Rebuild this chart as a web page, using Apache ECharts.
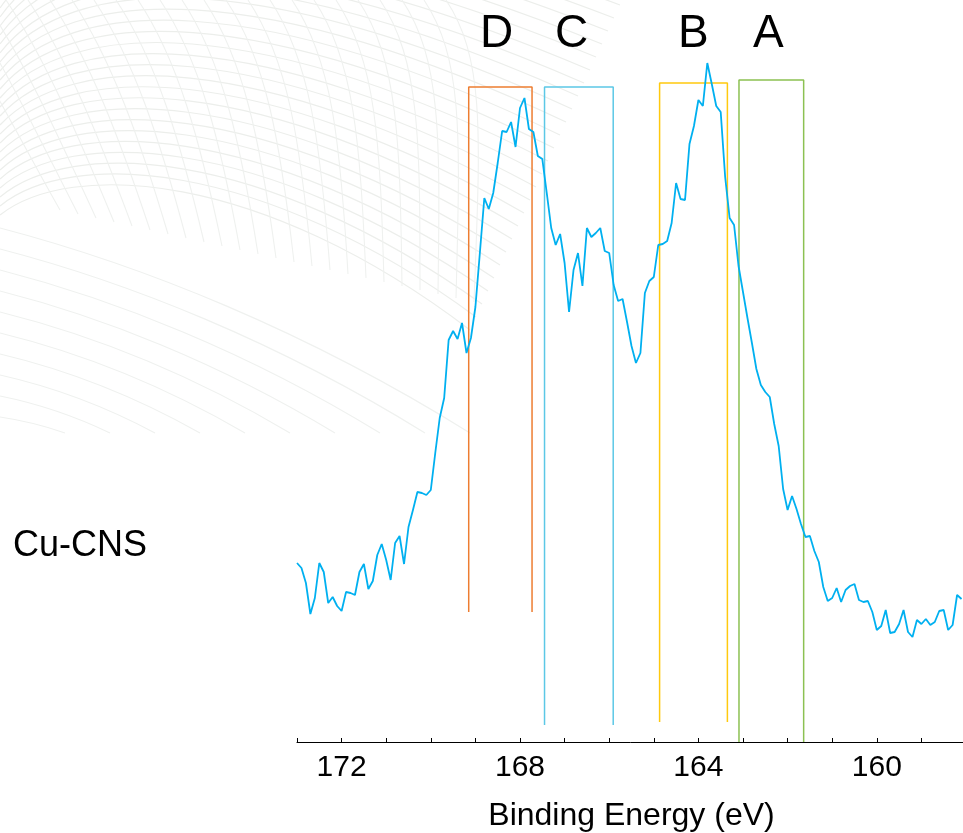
<!DOCTYPE html>
<html>
<head>
<meta charset="utf-8">
<title>Cu-CNS S 2p</title>
<script src="https://cdn.jsdelivr.net/npm/echarts@6/dist/echarts.min.js"></script>
<style>
  html, body { margin: 0; padding: 0; background: #fff; }
  #chart { width: 963px; height: 833px; }
</style>
</head>
<body>
<div id="chart"></div>
<script>
// binding energy (eV), 0.1 eV steps
const energy = [
  173.0, 172.9, 172.8, 172.7, 172.6, 172.5, 172.4, 172.3, 172.2, 172.1,
  172.0, 171.9, 171.8, 171.7, 171.6, 171.5, 171.4, 171.3, 171.2, 171.1,
  171.0, 170.9, 170.8, 170.7, 170.6, 170.5, 170.4, 170.3, 170.2, 170.1,
  170.0, 169.9, 169.8, 169.7, 169.6, 169.5, 169.4, 169.3, 169.2, 169.1,
  169.0, 168.9, 168.8, 168.7, 168.6, 168.5, 168.4, 168.3, 168.2, 168.1,
  168.0, 167.9, 167.8, 167.7, 167.6, 167.5, 167.4, 167.3, 167.2, 167.1,
  167.0, 166.9, 166.8, 166.7, 166.6, 166.5, 166.4, 166.3, 166.2, 166.1,
  166.0, 165.9, 165.8, 165.7, 165.6, 165.5, 165.4, 165.3, 165.2, 165.1,
  165.0, 164.9, 164.8, 164.7, 164.6, 164.5, 164.4, 164.3, 164.2, 164.1,
  164.0, 163.9, 163.8, 163.7, 163.6, 163.5, 163.4, 163.3, 163.2, 163.1,
  163.0, 162.9, 162.8, 162.7, 162.6, 162.5, 162.4, 162.3, 162.2, 162.1,
  162.0, 161.9, 161.8, 161.7, 161.6, 161.5, 161.4, 161.3, 161.2, 161.1,
  161.0, 160.9, 160.8, 160.7, 160.6, 160.5, 160.4, 160.3, 160.2, 160.1,
  160.0, 159.9, 159.8, 159.7, 159.6, 159.5, 159.4, 159.3, 159.2, 159.1,
  159.0, 158.9, 158.8, 158.7, 158.6, 158.5, 158.4, 158.3, 158.2, 158.1
]
// intensity (a.u.)
const intensity = [
  17.9, 17.4, 15.9, 12.8, 14.4, 17.9, 17.0, 13.9, 14.5, 13.6,
  13.1, 15.0, 14.9, 14.7, 17.0, 17.8, 15.3, 16.1, 18.7, 19.8,
  18.2, 16.2, 19.9, 20.6, 17.8, 21.5, 23.2, 25.0, 24.9, 24.7,
  25.2, 28.9, 32.4, 34.4, 40.2, 41.1, 40.3, 41.9, 38.9, 40.4,
  43.5, 48.9, 54.4, 53.3, 54.9, 57.9, 61.1, 61.0, 62.0, 59.5,
  63.4, 64.4, 61.3, 61.0, 58.6, 58.3, 54.9, 51.4, 49.7, 50.8,
  47.9, 43.0, 47.2, 48.9, 45.6, 51.4, 50.5, 50.9, 51.4, 49.1,
  48.9, 45.7, 44.1, 44.3, 42.0, 39.6, 37.9, 38.9, 44.9, 46.1,
  46.5, 49.7, 49.8, 50.1, 51.9, 55.9, 54.3, 54.2, 59.8, 61.6,
  64.2, 63.6, 67.9, 65.8, 63.6, 63.0, 56.5, 52.4, 51.7, 47.6,
  45.0, 42.4, 39.9, 37.3, 35.7, 35.0, 34.5, 31.8, 29.6, 25.3,
  23.2, 24.6, 23.3, 21.8, 20.5, 20.6, 19.1, 18.0, 15.5, 14.1,
  14.4, 15.4, 14.0, 15.2, 15.6, 15.8, 14.2, 14.0, 14.1, 13.0,
  11.2, 11.6, 13.2, 10.9, 11.0, 11.8, 13.2, 11.0, 10.5, 12.2,
  11.8, 12.3, 11.7, 12.0, 13.1, 13.2, 11.2, 11.7, 14.7, 14.3
]

// peak windows
const boxNames = ['D', 'C', 'B', 'A']
const boxLeft = [169.15, 167.45, 164.87, 163.09]
const boxRight = [167.73, 165.91, 163.35, 161.64]
const boxTop = [65.5, 65.5, 65.9, 66.2]
const boxBottom = [13.0, 1.7, 2.0, 0]
const boxColors = ['#ED7D31', '#5CC8E6', '#FFC90E', '#8CC152']

const FONT = 'Liberation Sans, Arial, sans-serif'

const myChart = echarts.init(document.getElementById('chart'))

// faint decorative mesh in the upper-left corner
const makeBackground = () => {
  const els = []
  for (let i = 0; i < 26; i++) {
    els.push({
      type: 'bezierCurve', silent: true, z: -10,
      shape: { x1: 0, y1: 215 - i * 9, cpx1: 70, cpy1: 160 - i * 11, cpx2: 260, cpy2: 170 - i * 12, x2: 470 + i * 6, y2: 330 - i * 13 },
      style: { stroke: '#eceeeb', lineWidth: 1.2, fill: null },
    })
  }
  for (let i = 0; i < 24; i++) {
    els.push({
      type: 'bezierCurve', silent: true, z: -10,
      shape: { x1: i * 22 - 60, y1: 0, cpx1: i * 22 - 20, cpy1: 60, cpx2: i * 20 + 20, cpy2: 140, x2: i * 18 + 60, y2: 210 + i * 4 },
      style: { stroke: '#eff1ef', lineWidth: 1.1, fill: null },
    })
  }
  for (let i = 0; i < 10; i++) {
    const x2 = 470 - i * 45
    const y1 = 228 + i * 21
    els.push({
      type: 'bezierCurve', silent: true, z: -10,
      shape: { x1: 0, y1: y1, cpx1: x2 * 0.3, cpy1: y1 + (433 - y1) * 0.18, cpx2: x2 * 0.65, cpy2: y1 + (433 - y1) * 0.5, x2: x2, y2: 433 },
      style: { stroke: '#eff1ef', lineWidth: 1.2, fill: null },
    })
  }
  return els
}

const boxSeries = boxNames.map((name, i) => ({
  name: name,
  type: 'line',
  showSymbol: false,
  silent: true,
  z: 1,
  lineStyle: { color: boxColors[i], width: 1.5 },
  data: [
    [boxLeft[i], boxBottom[i]],
    [boxLeft[i], boxTop[i]],
    [boxRight[i], boxTop[i]],
    [boxRight[i], boxBottom[i]],
  ],
}))

const option = {
  animation: false,
  backgroundColor: '#fff',
  grid: { left: 297, right: -3, top: 42, bottom: 91, outerBoundsMode: 'none' },
  xAxis: {
    type: 'value',
    inverse: true,
    min: 158,
    max: 173,
    interval: 1,
    name: 'Binding Energy (eV)',
    nameLocation: 'middle',
    nameGap: 58,
    nameTextStyle: { fontSize: 32, color: '#000', fontFamily: FONT },
    axisLine: { lineStyle: { color: '#000', width: 1 } },
    axisTick: { inside: true, length: 4, lineStyle: { color: '#000' } },
    axisLabel: {
      fontSize: 30, color: '#000', fontFamily: FONT, margin: 11,
      formatter: (v) => (v % 4 === 0 ? String(v) : ''),
    },
    splitLine: { show: false },
  },
  yAxis: { type: 'value', min: 0, max: 70, show: false },
  graphic: makeBackground().concat([
    { type: 'text', left: 13, top: 528, style: { text: 'Cu-CNS', font: '36px ' + FONT, fill: '#000' } },
    ...boxNames.map((n, i) => ({
      type: 'text',
      x: [496.7, 571.7, 693.3, 768.3][i],
      y: 34,
      style: { text: n, font: '46px ' + FONT, fill: '#000', align: 'center', verticalAlign: 'middle' },
    })),
  ]),
  series: boxSeries.concat([
    {
      name: 'Cu-CNS',
      type: 'line',
      showSymbol: false,
      z: 3,
      lineStyle: { color: '#00B0F0', width: 1.8 },
      data: energy.map((e, i) => [e, intensity[i]]),
    },
  ]),
}
myChart.setOption(option)
</script>
</body>
</html>
